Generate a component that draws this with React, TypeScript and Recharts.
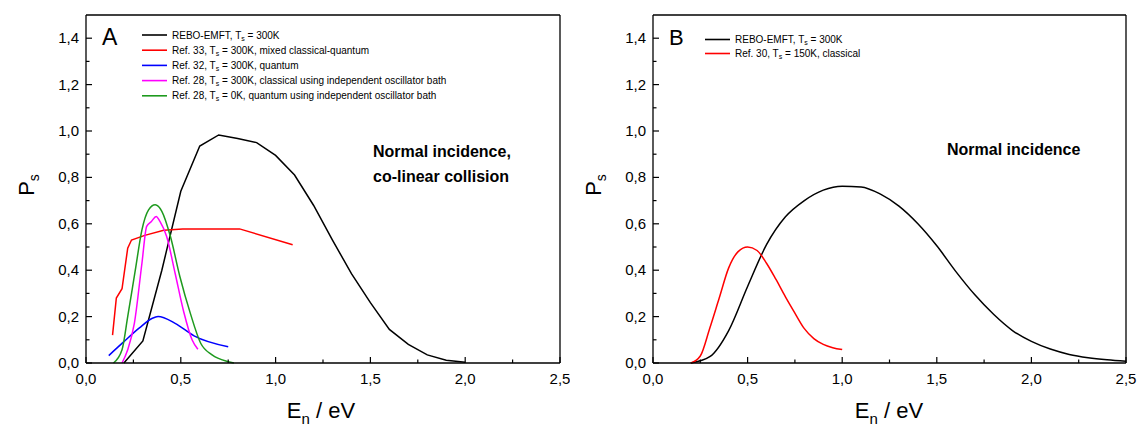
import React from 'react'
import { LineChart, Line, XAxis, YAxis } from 'recharts'

// ---- panel A data ----
const aReboX = [0.2, 0.3, 0.4, 0.5, 0.6, 0.7, 0.8, 0.9, 1.0, 1.1, 1.2, 1.3, 1.4, 1.5, 1.6, 1.7, 1.8, 1.9, 2.0]
const aReboY = [0, 0.095, 0.4, 0.74, 0.935, 0.983, 0.968, 0.95, 0.895, 0.81, 0.68, 0.53, 0.385, 0.26, 0.145, 0.08, 0.035, 0.012, 0.003]

const aRef33X = [0.14, 0.16, 0.19, 0.22, 0.24, 0.31, 0.41, 0.51, 0.81, 1.09]
const aRef33Y = [0.12, 0.28, 0.32, 0.495, 0.53, 0.55, 0.572, 0.578, 0.578, 0.51]

const aRef32X = [0.12, 0.2, 0.28, 0.35, 0.38, 0.47, 0.57, 0.75]
const aRef32Y = [0.032, 0.092, 0.15, 0.193, 0.2, 0.171, 0.117, 0.07]

const aRef28cX = [0.19, 0.22, 0.255, 0.295, 0.32, 0.345, 0.37, 0.39, 0.425, 0.47, 0.515, 0.56, 0.59]
const aRef28cY = [0, 0.057, 0.171, 0.43, 0.589, 0.61, 0.632, 0.61, 0.546, 0.387, 0.222, 0.099, 0.059]

const aRef28qX = [0.145, 0.19, 0.22, 0.26, 0.295, 0.33, 0.365, 0.4, 0.445, 0.495, 0.55, 0.605, 0.665, 0.75, 0.78]
const aRef28qY = [0, 0.057, 0.2, 0.4, 0.574, 0.66, 0.682, 0.654, 0.546, 0.373, 0.215, 0.085, 0.035, 0.006, 0]

// ---- panel B data ----
const bReboX = [0.2, 0.3, 0.4, 0.5, 0.6, 0.7, 0.8, 0.9, 1.0, 1.1, 1.2, 1.3, 1.4, 1.5, 1.6, 1.7, 1.8, 1.9, 2.0, 2.1, 2.2, 2.3, 2.4, 2.5]
const bReboY = [0, 0.027, 0.14, 0.33, 0.51, 0.63, 0.7, 0.745, 0.762, 0.759, 0.729, 0.676, 0.6, 0.505, 0.395, 0.295, 0.21, 0.14, 0.093, 0.06, 0.037, 0.023, 0.014, 0.008]

const bRef30X = [0.2, 0.25, 0.3, 0.35, 0.4, 0.45, 0.5, 0.55, 0.6, 0.65, 0.7, 0.75, 0.8, 0.85, 0.9, 0.95, 1.0]
const bRef30Y = [0, 0.03, 0.15, 0.28, 0.41, 0.48, 0.5, 0.485, 0.43, 0.36, 0.285, 0.215, 0.148, 0.105, 0.08, 0.066, 0.058]

// ---- ticks ----
const xMajor = [0, 0.5, 1, 1.5, 2, 2.5]
const xMinor = [0.25, 0.75, 1.25, 1.75, 2.25]
const yMajor = [0, 0.2, 0.4, 0.6, 0.8, 1.0, 1.2, 1.4]
const yMinor = [0.1, 0.3, 0.5, 0.7, 0.9, 1.1, 1.3]

const FONT = '"Liberation Sans", Arial, sans-serif'

const pts = (xs: number[], ys: number[]) => xs.map((x, i) => ({ x, y: ys[i] }))
const fmt = (v: number) => v.toFixed(1).replace('.', ',')
const isMajor = (v: number, list: number[]) => list.some((m) => Math.abs(m - v) < 1e-6)

type Series = { name: string; pre: string; post: string; color: string; data: { x: number; y: number }[]; curve: 'linear' | 'monotone' }

const seriesA: Series[] = [
  { name: 'rebo', pre: 'REBO-EMFT, T', post: ' = 300K', color: '#000000', data: pts(aReboX, aReboY), curve: 'linear' },
  { name: 'ref33', pre: 'Ref. 33, T', post: ' = 300K, mixed classical-quantum', color: '#ff0000', data: pts(aRef33X, aRef33Y), curve: 'linear' },
  { name: 'ref32', pre: 'Ref. 32, T', post: ' = 300K, quantum', color: '#0000ff', data: pts(aRef32X, aRef32Y), curve: 'monotone' },
  { name: 'ref28c', pre: 'Ref. 28, T', post: ' = 300K, classical using independent oscillator bath', color: '#ff00ff', data: pts(aRef28cX, aRef28cY), curve: 'monotone' },
  { name: 'ref28q', pre: 'Ref. 28, T', post: ' = 0K, quantum using independent oscillator bath', color: '#1e9a1e', data: pts(aRef28qX, aRef28qY), curve: 'monotone' },
]

const seriesB: Series[] = [
  { name: 'rebo', pre: 'REBO-EMFT, T', post: ' = 300K', color: '#000000', data: pts(bReboX, bReboY), curve: 'monotone' },
  { name: 'ref30', pre: 'Ref. 30, T', post: ' = 150K, classical', color: '#ff0000', data: pts(bRef30X, bRef30Y), curve: 'monotone' },
]

function BottomTick(props: any) {
  const { x, y, payload } = props
  const major = isMajor(payload.value, xMajor)
  return (
    <g>
      <line x1={x} x2={x} y1={y} y2={y - (major ? 6 : 3.5)} stroke="#000" strokeWidth={1.2} />
      {major && (
        <text x={x} y={y + 21} textAnchor="middle" fontSize={15} fontFamily={FONT} fill="#000">
          {fmt(payload.value)}
        </text>
      )}
    </g>
  )
}

function TopTick(props: any) {
  const { x, y, payload } = props
  const major = isMajor(payload.value, xMajor)
  return <line x1={x} x2={x} y1={y} y2={y + (major ? 6 : 3.5)} stroke="#000" strokeWidth={1.2} />
}

function LeftTick(props: any) {
  const { x, y, payload } = props
  const major = isMajor(payload.value, yMajor)
  return (
    <g>
      <line x1={x} x2={x + (major ? 6 : 3.5)} y1={y} y2={y} stroke="#000" strokeWidth={1.2} />
      {major && (
        <text x={x - 7} y={y + 5} textAnchor="end" fontSize={15} fontFamily={FONT} fill="#000">
          {fmt(payload.value)}
        </text>
      )}
    </g>
  )
}

function RightTick(props: any) {
  const { x, y, payload } = props
  const major = isMajor(payload.value, yMajor)
  return <line x1={x} x2={x - (major ? 6 : 3.5)} y1={y} y2={y} stroke="#000" strokeWidth={1.2} />
}

const axisLine = { stroke: '#000', strokeWidth: 1.3 }

function Panel({ series, margin }: { series: Series[]; margin: { top: number; left: number; right: number; bottom: number } }) {
  const xt = [...xMajor, ...xMinor].sort((a, b) => a - b)
  const yt = [...yMajor, ...yMinor].sort((a, b) => a - b)
  return (
    <LineChart width={570} height={426} margin={margin}>
      <XAxis xAxisId="b" type="number" dataKey="x" domain={[0, 2.5]} ticks={xt} interval={0} height={1}
        tickSize={0} tickMargin={0} tickLine={false} axisLine={axisLine} tick={<BottomTick />} />
      <XAxis xAxisId="t" orientation="top" type="number" dataKey="x" domain={[0, 2.5]} ticks={xt} interval={0} height={1}
        tickSize={0} tickMargin={0} tickLine={false} axisLine={axisLine} tick={<TopTick />} />
      <YAxis yAxisId="l" type="number" domain={[0, 1.5]} ticks={yt} interval={0} width={1}
        tickSize={0} tickMargin={0} tickLine={false} axisLine={axisLine} tick={<LeftTick />} />
      <YAxis yAxisId="r" orientation="right" type="number" domain={[0, 1.5]} ticks={yt} interval={0} width={1}
        tickSize={0} tickMargin={0} tickLine={false} axisLine={axisLine} tick={<RightTick />} />
      {series.map((s) => (
        <Line key={s.name} xAxisId="b" yAxisId="l" data={s.data} dataKey="y" type={s.curve} stroke={s.color}
          strokeWidth={1.5} dot={false} activeDot={false} isAnimationActive={false} />
      ))}
    </LineChart>
  )
}

function LegendBlock({ series, x, y, gap }: { series: Series[]; x: number; y: number; gap: number }) {
  return (
    <g fontFamily={FONT} fontSize={10}>
      {series.map((s, i) => (
        <g key={s.name}>
          <line x1={x} x2={x + 25} y1={y + i * gap} y2={y + i * gap} stroke={s.color} strokeWidth={1.6} />
          <text x={x + 30} y={y + i * gap + 3.5} fill="#000">
            {s.pre}
            <tspan fontSize={7} dy={2}>s</tspan>
            <tspan dy={-2}>{s.post}</tspan>
          </text>
        </g>
      ))}
    </g>
  )
}

function AxisTitles({ dx, xc }: { dx: number; xc: number }) {
  return (
    <g fontFamily={FONT} fill="#000">
      <text x={27 + dx} y={185} fontSize={22} transform={`rotate(-90, ${27 + dx}, 185)`} textAnchor="middle" dy={7}>
        P<tspan fontSize={14} dy={5}>s</tspan>
      </text>
      <text x={xc} y={418} fontSize={22} textAnchor="middle">
        E<tspan fontSize={15} dy={6}>n</tspan>
        <tspan dy={-6}> / eV</tspan>
      </text>
    </g>
  )
}

export default function App() {
  return (
    <div style={{ position: 'fixed', left: 0, top: 0, width: 1140, height: 426, background: '#fff' }}>
      <div style={{ position: 'absolute', left: 0, top: 0 }}>
        <Panel series={seriesA} margin={{ top: 14, left: 85, right: 9, bottom: 62 }} />
      </div>
      <div style={{ position: 'absolute', left: 570, top: 0 }}>
        <Panel series={seriesB} margin={{ top: 14, left: 82, right: 13, bottom: 62 }} />
      </div>
      <svg width={1140} height={426} style={{ position: 'absolute', left: 0, top: 0, pointerEvents: 'none' }}>
        <AxisTitles dx={0} xc={321} />
        <AxisTitles dx={567} xc={889} />
        <text x={102} y={45} fontSize={23} fontFamily={FONT}>A</text>
        <text x={669} y={45} fontSize={22} fontFamily={FONT}>B</text>
        <LegendBlock series={seriesA} x={142} y={35} gap={15.2} />
        <LegendBlock series={seriesB} x={705} y={39.5} gap={14} />
        <g fontFamily={FONT} fontSize={16} fontWeight="bold">
          <text x={373} y={157}>Normal incidence,</text>
          <text x={373} y={182}>co-linear collision</text>
          <text x={947} y={155}>Normal incidence</text>
        </g>
      </svg>
    </div>
  )
}
